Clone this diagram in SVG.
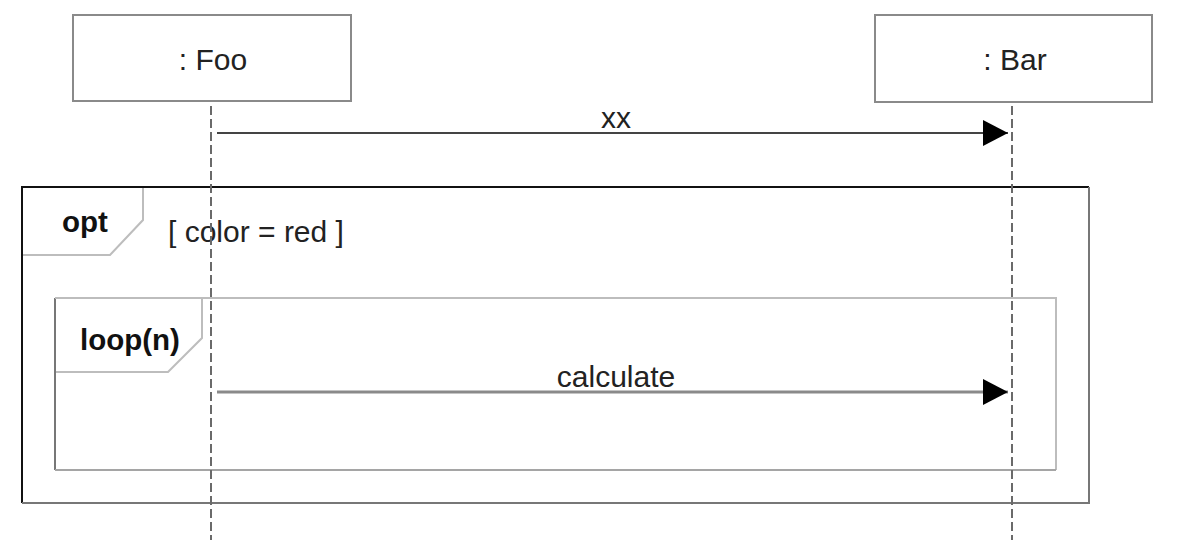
<svg xmlns="http://www.w3.org/2000/svg" width="1177" height="556" viewBox="0 0 1177 556">
<style>
.obj{fill:#fff;stroke:#8a8a8a;stroke-width:2}
.lbl{font-family:"Liberation Sans",Arial,sans-serif;font-size:30px;fill:#222}
.bold{font-family:"Liberation Sans",Arial,sans-serif;font-size:29.5px;font-weight:bold;fill:#111}
.life{stroke:#6a6a6a;stroke-width:2;stroke-dasharray:9,4;fill:none}
.tab{fill:#fff;stroke:#bdbdbd;stroke-width:2}
</style>
<defs>
<marker id="arr" markerWidth="26" markerHeight="26" refX="25" refY="13" orient="auto" markerUnits="userSpaceOnUse">
<path d="M0,0 L25,13 L0,26 Z" fill="#000"/>
</marker>
</defs>
<rect width="1177" height="556" fill="#fff"/>
<g id="opt">
<path d="M22,503 L22,187 L1089,187" fill="none" stroke="#111" stroke-width="2"/>
<path d="M1089,187 L1089,503 L22,503" fill="none" stroke="#777" stroke-width="2"/>
<path class="tab" d="M23,255 L110,255 L143,220 L143,188"/>
<text class="bold" x="62" y="232">opt</text>
<text class="lbl" x="168" y="242">[ color = red ]</text>
</g>
<g id="loop">
<path d="M55,470 L55,298" fill="none" stroke="#777" stroke-width="2"/>
<path d="M55,298 L1056,298 L1056,470" fill="none" stroke="#bdbdbd" stroke-width="2"/>
<path d="M1056,470 L55,470" fill="none" stroke="#a5a5a5" stroke-width="2"/>
<path class="tab" d="M56,372 L168,372 L202,338 L202,299"/>
<text class="bold" x="80" y="350">loop(n)</text>
</g>
<g id="foo">
<rect class="obj" x="73" y="15" width="278" height="86"/>
<text class="lbl" x="213" y="70" text-anchor="middle">: Foo</text>
</g>
<g id="bar">
<rect class="obj" x="875" y="15" width="277" height="87"/>
<text class="lbl" x="1015" y="70" text-anchor="middle">: Bar</text>
</g>
<g id="connectors">
<line class="life" x1="211" y1="106" x2="211" y2="540"/>
<line class="life" x1="1012" y1="106" x2="1012" y2="540"/>
<line x1="217" y1="133" x2="1008" y2="133" stroke="#444" stroke-width="2" marker-end="url(#arr)"/>
<text class="lbl" x="616" y="128" text-anchor="middle">xx</text>
<line x1="217" y1="392" x2="1008" y2="392" stroke="#8a8a8a" stroke-width="3" marker-end="url(#arr)"/>
<text class="lbl" x="616" y="387" text-anchor="middle">calculate</text>
</g>
</svg>
